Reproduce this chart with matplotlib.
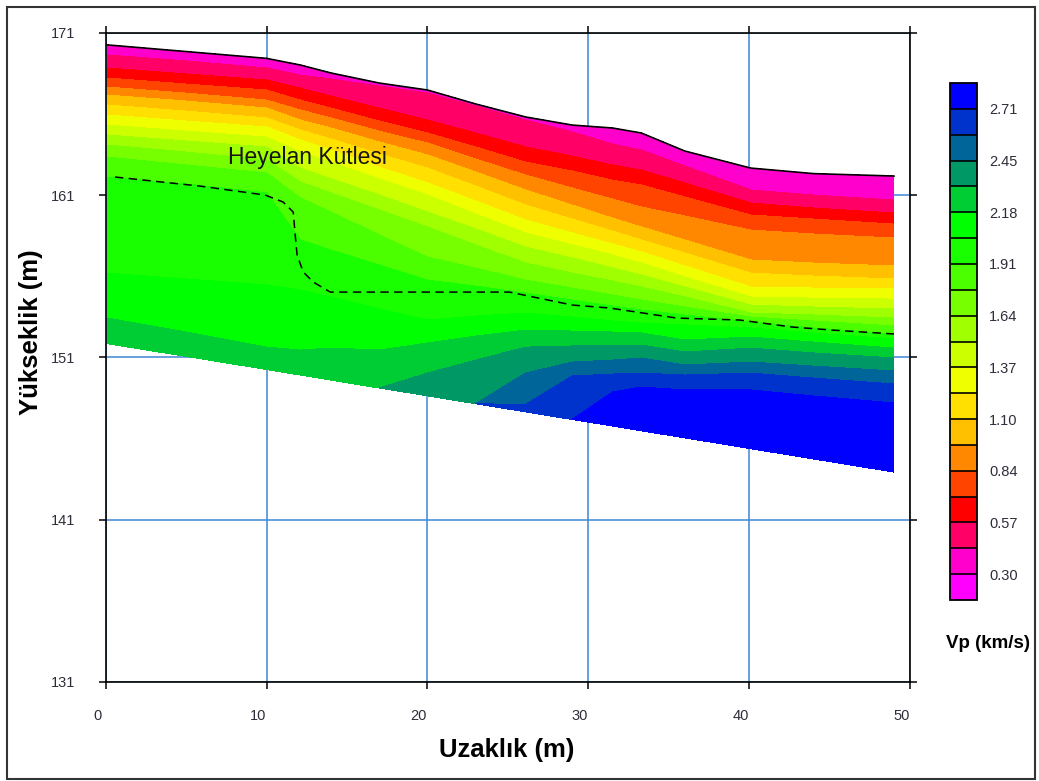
import numpy as np
import matplotlib
matplotlib.use('Agg')
import matplotlib.pyplot as plt
import matplotlib.transforms as mtransforms
from matplotlib.patches import Rectangle

plt.rcParams['font.family'] = ['Liberation Sans', 'DejaVu Sans']

# profile columns along the line (m)
x_cols = [0.1, 5, 10, 12.1, 14, 17, 20, 23, 26.1, 29, 31.5, 33.3, 36, 40.1, 44, 49]
# ground surface and base of the model (elevation, m)
topo = [170.25, 169.84, 169.42, 169.01, 168.52, 167.90, 167.47, 166.61,
        165.81, 165.31, 165.13, 164.82, 163.71, 162.66, 162.32, 162.17]
base = [151.84, 151.06, 150.25, 149.91, 149.60, 149.11, 148.63, 148.14,
        147.64, 147.17, 146.77, 146.47, 146.04, 145.37, 144.74, 143.93]

# elevation where Vp crosses each level (None = level not reached above the base)
iso_0435 = [169.63, 169.26, 168.83, 168.39, 168.15, 167.71, 167.28, 166.48, 165.62, 164.88, 164.14, 163.77, 162.79, 161.31, 161.00, 160.69]
iso_0570 = [168.83, 168.46, 168.09, 167.59, 167.10, 166.36, 165.62, 164.82, 163.96, 163.40, 162.85, 162.54, 161.74, 160.51, 160.20, 159.89]
iso_0705 = [168.21, 167.84, 167.47, 166.85, 166.36, 165.56, 164.82, 163.96, 163.03, 162.48, 161.92, 161.62, 160.88, 159.77, 159.52, 159.21]
iso_0840 = [167.65, 167.28, 166.85, 166.24, 165.75, 164.94, 164.20, 163.22, 162.23, 161.43, 160.75, 160.26, 159.71, 158.84, 158.60, 158.35]
iso_0970 = [167.16, 166.79, 166.36, 165.62, 165.13, 164.27, 163.47, 162.42, 161.31, 160.38, 159.58, 159.03, 158.23, 157.00, 156.81, 156.63]
iso_1100 = [166.55, 166.17, 165.75, 165.01, 164.45, 163.53, 162.66, 161.55, 160.38, 159.52, 158.78, 158.23, 157.43, 156.19, 156.01, 155.83]
iso_1235 = [165.93, 165.56, 165.19, 164.39, 163.77, 162.72, 161.74, 160.63, 159.46, 158.66, 157.98, 157.49, 156.63, 155.33, 155.27, 155.21]
iso_1370 = [165.31, 164.94, 164.57, 163.65, 163.03, 161.99, 161.00, 159.83, 158.66, 157.92, 157.30, 156.81, 155.95, 154.72, 154.65, 154.59]
iso_1505 = [164.70, 164.33, 163.96, 162.66, 161.99, 161.00, 159.95, 158.91, 157.79, 157.12, 156.50, 156.07, 155.33, 154.22, 154.10, 153.98]
iso_1640 = [164.08, 163.65, 163.16, 161.80, 161.13, 160.08, 159.03, 157.92, 156.81, 156.19, 155.70, 155.33, 154.72, 153.73, 153.61, 153.42]
iso_1775 = [163.34, 162.85, 162.36, 160.82, 159.95, 158.54, 157.18, 156.50, 155.76, 155.27, 154.84, 154.53, 154.10, 153.48, 153.24, 152.93]
iso_1910 = [162.11, 161.68, 161.13, 158.23, 157.61, 156.69, 155.76, 155.39, 154.96, 154.53, 154.16, 153.92, 153.61, 153.18, 152.81, 152.44]
iso_2045 = [156.19, 155.83, 155.46, 155.15, 154.72, 153.98, 153.30, 153.55, 153.73, 153.48, 153.24, 153.11, 153.00, 152.81, 152.50, 152.13]
iso_2180 = [153.42, 152.56, 151.63, 151.45, 151.57, 151.45, 151.88, 152.31, 152.68, 152.62, 152.56, 152.50, 152.07, 152.25, 151.94, 151.57]
iso_2315 = [None, None, None, None, None, None, 150.03, 150.83, 151.63, 151.70, 151.76, 151.76, 151.33, 151.57, 151.27, 150.96]
iso_2450 = [None, None, None, None, None, None, None, None, 150.03, 150.71, 150.83, 150.96, 150.53, 150.71, 150.46, 150.16]
iso_2580 = [None, None, None, None, None, None, None, None, 148.10, 149.85, 149.97, 150.03, 149.91, 150.03, 149.72, 149.36]
iso_2710 = [None, None, None, None, None, None, None, None, None, None, 148.86, 149.17, 148.99, 148.99, 148.62, 148.19]

iso_vals = [0.435, 0.57, 0.705, 0.84, 0.97, 1.10, 1.235, 1.37, 1.505,
            1.64, 1.775, 1.91, 2.045, 2.18, 2.315, 2.45, 2.58, 2.71]
top_val = 0.35
base_val = 2.80

# landslide mass boundary (dashed)
slide_x = [0.58, 5.87, 9.91, 11.03, 11.66, 11.78, 11.90, 12.28, 12.90, 13.96,
           25.10, 29.02, 31.32, 35.49, 39.41, 42.65, 45.14, 49.00]
slide_y = [162.11, 161.55, 161.00, 160.57, 159.95, 158.54, 157.30, 156.26, 155.64, 155.02,
           155.02, 154.22, 154.04, 153.42, 153.30, 152.87, 152.68, 152.44]

vp_levels = [0.165, 0.30, 0.435, 0.57, 0.705, 0.84, 0.97, 1.10, 1.235, 1.37, 1.505,
             1.64, 1.775, 1.91, 2.045, 2.18, 2.315, 2.45, 2.58, 2.71, 2.845]
cbar_ticks = [0.30, 0.57, 0.84, 1.10, 1.37, 1.64, 1.91, 2.18, 2.45, 2.71]
band_colors = ['#FF00FF', '#FF00CC', '#FF0066', '#FF0000', '#FF4400', '#FF8800',
               '#FFC000', '#FFE000', '#F0FF00', '#CCFF00', '#A0FF00', '#77FF00',
               '#4CFF00', '#1AFF00', '#00FF00', '#00CC33', '#009966', '#006699',
               '#0033CC', '#0000FF']

iso_rows = [iso_0435, iso_0570, iso_0705, iso_0840, iso_0970, iso_1100, iso_1235,
            iso_1370, iso_1505, iso_1640, iso_1775, iso_1910, iso_2045, iso_2180,
            iso_2315, iso_2450, iso_2580, iso_2710]

# curvilinear grid: each row is an iso-velocity line
Y = np.array([topo] + [[b if v is None else v for v, b in zip(row, base)] for row in iso_rows] + [base])
X = np.tile(np.array(x_cols), (Y.shape[0], 1))
Z = np.array([top_val] + iso_vals + [base_val])[:, None] * np.ones((1, len(x_cols)))

fig = plt.figure(figsize=(10.39, 7.81), dpi=100)
ax = fig.add_axes([0.1017, 0.1268, 0.7742, 0.8313])

cs = ax.contourf(X, Y, Z, levels=vp_levels, colors=band_colors, antialiased=False, zorder=2)
ax.plot(x_cols, topo, color='black', lw=1.2, zorder=4)
ax.plot(slide_x, slide_y, color='black', lw=1.1, dashes=(5.5, 3.5), zorder=4)
ax.text(7.6, 163.3, 'Heyelan Kütlesi', fontsize=16.5, va='center', ha='left', color='#151515', zorder=5)

ax.set_xlim(0, 50)
ax.set_ylim(131, 171)
ax.set_xticks([0, 10, 20, 30, 40, 50])
ax.set_yticks([131, 141, 151, 161, 171])
ax.set_axisbelow(True)
ax.grid(True, color='#3d86d6', lw=1.1)
for s in ax.spines.values():
    s.set_linewidth(1.2)
    s.set_color('black')
ax.tick_params(direction='out', length=4.8, width=1.1, top=True, right=True,
               labelsize=10.5, labelcolor='#2e2e3a')
ax.tick_params(axis='y', pad=17)
ax.tick_params(axis='x', pad=15)
shift = mtransforms.ScaledTranslation(-8.5 / 100, 0, fig.dpi_scale_trans)
for lab in ax.get_xticklabels():
    lab.set_transform(lab.get_transform() + shift)

fig.text(507 / 1039, 1 - 750 / 781, 'Uzaklık (m)', fontsize=18.5, fontweight='bold',
         ha='center', va='center')
fig.text(31 / 1039, 1 - 332 / 781, 'Yükseklik (m)', fontsize=18.5, fontweight='bold',
         ha='center', va='center', rotation=90)

cax = fig.add_axes([949.5 / 1039, (781 - 600) / 781, 27 / 1039, 517 / 781])
cb = fig.colorbar(cs, cax=cax, ticks=cbar_ticks, drawedges=True)
cb.ax.set_yticklabels(['%.2f' % t for t in cbar_ticks])
cb.ax.tick_params(length=0, pad=9, labelsize=10.5, labelcolor='#2e2e3a')
cb.outline.set_linewidth(1.3)
cb.dividers.set_linewidth(1.2)
cb.dividers.set_color('black')
fig.text(988 / 1039, 1 - 643 / 781, 'Vp (km/s)', fontsize=13.5, fontweight='bold',
         ha='center', va='center')

fig.add_artist(Rectangle((0.0065, 0.003), 0.9895, 0.988, transform=fig.transFigure,
                         fill=False, lw=1.5, ec='#333333'))

fig.savefig('out.png', dpi=100)
